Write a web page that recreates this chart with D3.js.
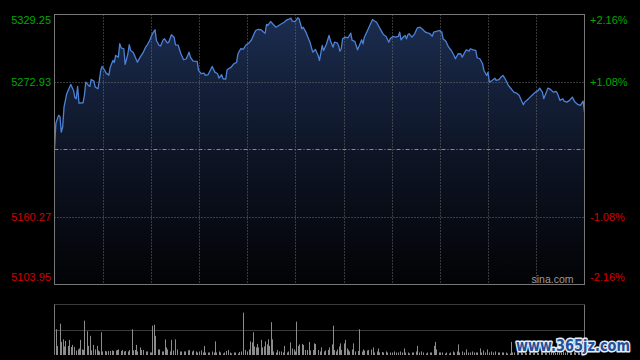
<!DOCTYPE html>
<html><head><meta charset="utf-8">
<script src="https://cdn.jsdelivr.net/npm/d3@7"></script>
<style>html,body{margin:0;padding:0;background:#000;overflow:hidden}</style>
</head><body>
<svg id="c" width="640" height="360"></svg>
<script>
// ---- data (minute of session, index level) ----
const priceMinutes = [0,1,3,4,5,6,7,9,10,12,14,15,16,17,18,21,22,23,25,26,27,29,30,32,33,34,35,37,38,40,41,43,44,45,47,48,49,51,52,54,55,56,58,61,63,65,67,68,70,72,74,75,77,78,80,81,83,84,86,88,89,91,93,95,97,99,100,102,105,106,108,110,111,113,116,118,120,121,123,124,126,127,130,132,134,135,137,139,141,143,145,146,148,150,152,154,155,156,157,159,161,163,165,167,169,171,172,174,175,177,179,180,182,183,185,188,190,192,194,195,197,198,200,202,203,205,206,208,209,210,211,212,214,216,218,219,221,223,225,226,227,228,230,232,234,235,237,239,241,242,244,246,247,249,251,253,254,255,257,258,259,260,261,263,265,267,269,271,273,275,276,278,279,281,283,285,286,288,290,292,294,295,297,299,300,302,303,305,306,308,310,311,313,315,316,318,319,320,322,324,325,327,329,330,332,334,336,338,340,342,343,345,346,348,350,352,354,356,357,359,360,362,363,365,367,369,370,372,374,375,377,379,381,383,385,387,389,390];
const prices = [5216.46,5238.39,5245.06,5244.22,5231.14,5235.30,5251.98,5263.15,5265.90,5270.90,5265.90,5259.81,5258.98,5269.23,5255.31,5255.60,5261.73,5272.82,5270.06,5269.23,5275.07,5273.65,5268.65,5267.31,5274.23,5282.57,5285.90,5282.57,5280.32,5278.65,5285.32,5290.90,5289.24,5295.07,5293.66,5304.83,5301.49,5300.66,5287.57,5296.49,5303.99,5299.24,5297.57,5289.49,5293.66,5296.99,5301.99,5303.41,5307.58,5313.16,5316.50,5307.58,5303.41,5303.00,5308.16,5308.99,5305.66,5305.91,5312.33,5310.33,5303.99,5303.70,5296.49,5291.49,5292.32,5297.82,5293.66,5290.32,5290.10,5282.57,5279.82,5280.32,5278.40,5278.98,5285.90,5281.15,5279.82,5276.15,5278.98,5275.65,5275.40,5283.15,5285.32,5288.15,5289.24,5296.49,5300.66,5300.40,5303.99,5305.33,5308.16,5310.91,5315.91,5316.75,5316.50,5314.50,5313.66,5320.91,5320.08,5323.41,5320.91,5318.66,5320.08,5321.50,5322.83,5324.83,5325.08,5326.17,5323.66,5323.40,5326.50,5325.66,5317.33,5318.66,5314.50,5306.16,5297.82,5300.07,5295.07,5290.90,5303.41,5299.24,5304.24,5311.74,5307.58,5301.99,5306.16,5305.66,5303.41,5298.66,5300.66,5308.99,5310.33,5309.83,5313.66,5307.58,5306.74,5299.82,5305.33,5308.16,5304.83,5310.33,5315.08,5320.08,5325.08,5324.25,5322.83,5318.66,5314.50,5312.58,5310.91,5306.16,5308.99,5310.91,5310.33,5310.91,5314.50,5308.16,5310.91,5311.74,5308.99,5312.33,5313.16,5310.33,5313.16,5318.16,5318.66,5316.75,5314.50,5313.66,5313.40,5311.16,5314.50,5315.08,5315.91,5314.50,5308.99,5306.99,5301.99,5299.24,5295.07,5292.32,5296.49,5296.30,5293.66,5297.82,5299.82,5298.66,5300.66,5299.82,5299.24,5293.15,5292.32,5288.15,5282.57,5278.40,5281.15,5272.82,5274.23,5276.15,5274.23,5274.82,5277.57,5278.40,5274.82,5270.06,5267.31,5264.48,5263.65,5261.73,5258.98,5253.98,5256.14,5258.14,5260.31,5262.56,5264.48,5265.90,5267.81,5264.48,5258.98,5264.48,5267.81,5266.73,5264.48,5265.06,5263.65,5257.56,5258.98,5256.98,5256.14,5257.56,5260.31,5256.14,5254.23,5253.39,5256.98,5247.81];
const volMinutes = [1,2,4,5,6,7,8,10,11,12,13,14,16,17,18,19,20,21,22,24,25,26,27,28,30,31,32,33,34,35,37,38,39,41,42,43,45,46,47,49,50,51,52,54,55,57,58,59,60,61,63,64,65,67,68,70,71,72,73,74,76,77,79,80,81,82,83,85,86,87,89,90,92,93,95,96,98,99,101,102,104,105,106,108,109,110,111,113,114,116,117,118,119,121,122,124,125,126,128,129,130,132,133,135,136,137,139,140,142,143,144,145,146,147,148,149,150,152,153,154,155,156,157,158,159,160,161,163,164,165,167,168,169,171,172,173,175,176,177,178,179,180,182,183,184,186,187,188,190,191,192,194,195,196,198,199,201,202,204,205,206,207,208,209,210,211,213,214,215,216,217,219,220,221,223,224,226,227,228,230,231,233,234,235,237,238,239,241,242,244,245,247,248,250,251,253,254,256,257,258,260,261,263,264,266,267,268,270,271,273,274,276,277,279,280,281,283,284,285,287,288,290,291,293,294,296,297,298,300,301,303,304,306,307,309,310,311,313,314,315,317,318,320,321,323,324,326,327,329,330,332,333,335,336,337,338,340,341,343,344,346,347,349,350,352,353,355,356,358,359,361,362,364,365,367,368,370,371,373,374,376,377,379,380,382,383,385,386,388,389];
const volumes = [51,18,62,26,31,17,28,18,30,16,20,16,9,11,13,30,11,10,68,47,18,38,9,20,11,18,9,7,45,7,8,7,8,8,9,8,9,10,11,8,10,7,8,7,10,51,9,10,20,7,15,10,10,7,7,5,5,58,60,38,11,11,7,7,31,15,11,7,30,9,31,11,7,7,7,7,9,10,7,9,7,5,7,9,5,18,5,5,5,7,5,27,5,7,5,3,5,8,10,5,3,5,5,3,6,7,84,10,7,11,27,25,45,17,15,22,15,30,15,17,27,21,31,18,65,31,7,5,10,7,7,5,18,5,7,25,13,11,7,66,18,21,22,20,10,10,26,9,10,23,22,10,7,15,7,9,10,15,21,58,10,7,11,17,23,10,23,30,13,10,7,11,23,7,8,51,7,11,9,9,10,11,15,5,7,13,5,6,5,7,5,5,5,7,5,5,7,5,13,5,5,3,5,5,7,18,5,7,5,3,5,5,5,18,26,11,5,5,5,3,5,3,5,7,5,7,21,5,7,5,11,5,5,7,5,5,5,13,5,9,5,11,5,7,5,7,5,5,5,5,5,3,3,26,5,5,6,5,7,5,6,4,5,7,5,6,5,4,6,5,7,5,5,6,5,4,6,5,5,7,5,6,5,5,6,5,7,5,6,8];
const prevClose = 5216.60;
const levelTicks = [5329.25, 5272.93, 5160.27, 5103.95];
const levelLabels = ["5329.25", "5272.93", "5160.27", "5103.95"];
const pctLabels = ["+2.16%", "+1.08%", "-1.08%", "-2.16%"];
const volMax = 100;

// ---- drawing ----
const svg = d3.select("#c");
const L = 54.5, R = 584.5, T = 14.5, B = 284.5;
const VT = 304.5, VB = 355;
const x = d3.scaleLinear().domain([0, 390]).range([L, R]);
const y = d3.scaleLinear().domain([5103.95, 5329.25]).range([B, T]);
const gx = d3.scaleLinear().domain([0, 11]).range([L, R]);
const vy = d3.scaleLinear().domain([0, volMax]).range([VB, VT]);

svg.append("rect").attr("width", 640).attr("height", 360).attr("fill", "#000");

const defs = svg.append("defs");
const grad = defs.append("linearGradient").attr("id", "fillg")
  .attr("gradientUnits", "userSpaceOnUse").attr("x1", 0).attr("y1", T).attr("x2", 0).attr("y2", B);
grad.append("stop").attr("offset", "0").attr("stop-color", "#1b2d50");
grad.append("stop").attr("offset", "0.5").attr("stop-color", "#0e1526");
grad.append("stop").attr("offset", "1").attr("stop-color", "#020305");

const pts = priceMinutes.map((m, i) => ({ m, p: prices[i] }));

svg.append("path").datum(pts)
  .attr("fill", "url(#fillg)")
  .attr("d", d3.area().x(d => x(d.m)).y0(B).y1(d => y(d.p)));

// grid
const grid = svg.append("g");
d3.range(1, 11).forEach(i => {
  const gxp = Math.round(gx(i)) + 0.5;
  grid.append("line").attr("x1", gxp).attr("x2", gxp).attr("y1", T).attr("y2", B)
    .attr("stroke", "#6e6e6e").attr("stroke-dasharray", "1,2");
});
[levelTicks[1], levelTicks[2]].forEach(v => {
  const yy = Math.round(y(v)) + 0.5;
  grid.append("line").attr("x1", L).attr("x2", R).attr("y1", yy).attr("y2", yy)
    .attr("stroke", "#6e6e6e").attr("stroke-dasharray", "1,2");
});
const pcY = Math.round(y(prevClose)) + 0.5;
grid.append("line").attr("x1", L).attr("x2", R).attr("y1", pcY).attr("y2", pcY)
  .attr("stroke", "#8a8a8a").attr("stroke-dasharray", "4,2,1,2");

// price line
svg.append("path").datum(pts)
  .attr("fill", "none").attr("stroke", "#4d82d8").attr("stroke-width", 1.3)
  .attr("stroke-linejoin", "round")
  .attr("d", d3.line().x(d => x(d.m)).y(d => y(d.p)));

// frame
svg.append("rect").attr("x", L).attr("y", T).attr("width", R - L).attr("height", B - T)
  .attr("fill", "none").attr("stroke", "#777");

// labels
const lab = svg.append("g").attr("font-family", "Liberation Sans, Arial, sans-serif").attr("font-size", 11);
levelTicks.forEach((v, i) => {
  const cy = Math.max(T + 6, Math.min(B - 7, y(v)));
  const col = v > prevClose ? "#00a800" : "#d40000";
  lab.append("text").attr("x", 51).attr("y", cy).attr("dy", "0.36em")
    .attr("text-anchor", "end").attr("fill", col).text(levelLabels[i]);
  lab.append("text").attr("x", 590).attr("y", cy).attr("dy", "0.36em")
    .attr("text-anchor", "start").attr("fill", col).text(pctLabels[i]);
});
lab.append("text").attr("x", R - 11).attr("y", B - 1.5).attr("text-anchor", "end")
  .attr("fill", "#9a9a9a").attr("font-size", 10.5).text("sina.com");

// volume panel
const vg = svg.append("g");
vg.append("line").attr("x1", L).attr("x2", R).attr("y1", VT).attr("y2", VT)
  .attr("stroke", "#777").attr("stroke-dasharray", "1,1");
const vmid = Math.round(vy(volMax / 2)) + 0.5;
vg.append("line").attr("x1", L).attr("x2", R).attr("y1", vmid).attr("y2", vmid)
  .attr("stroke", "#777").attr("stroke-dasharray", "1,1");
vg.selectAll("rect.v").data(volMinutes.map((m, i) => ({ m, v: volumes[i] }))).enter()
  .append("rect").attr("class", "v")
  .attr("x", d => Math.round(x(d.m)) )
  .attr("y", d => vy(d.v)).attr("width", 1)
  .attr("height", d => VB - vy(d.v)).attr("fill", "#8c8c8c");
vg.append("line").attr("x1", L).attr("x2", L).attr("y1", VT).attr("y2", VB).attr("stroke", "#777");
vg.append("line").attr("x1", R).attr("x2", R).attr("y1", VT).attr("y2", VB).attr("stroke", "#777");

// watermark overlay
svg.append("text").attr("x", 516).attr("y", 351)
  .attr("font-family", "DejaVu Sans, sans-serif").attr("font-weight", "bold").attr("font-size", 15)
  .attr("textLength", 114).attr("lengthAdjust", "spacingAndGlyphs")
  .attr("fill", "#22509a").attr("stroke", "#e8eef8").attr("stroke-width", 3)
  .attr("paint-order", "stroke").attr("stroke-linejoin", "round")
  .text("www.365jz.com");
</script>
</body></html>
